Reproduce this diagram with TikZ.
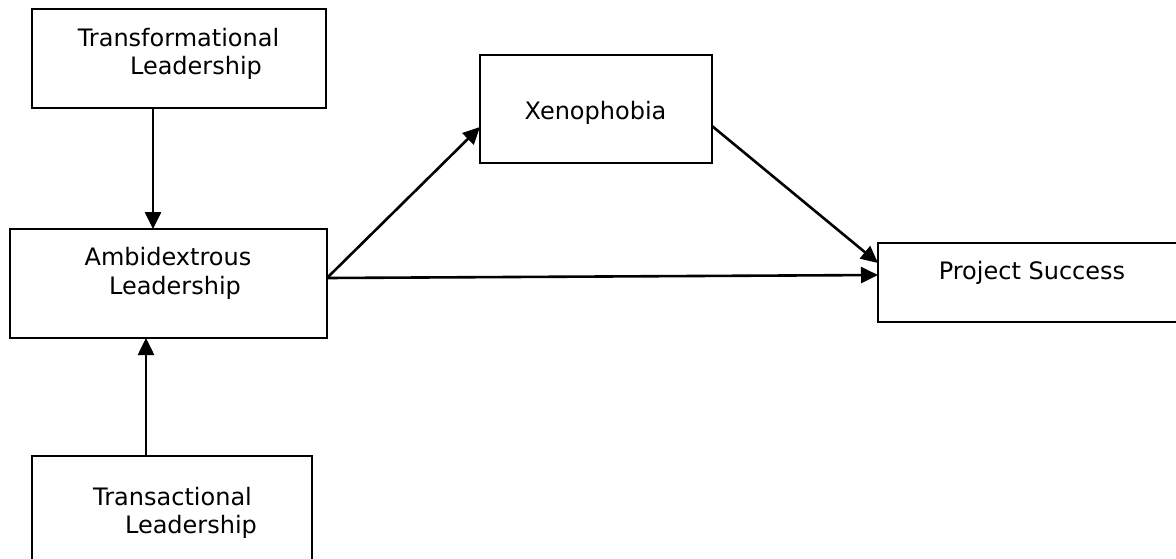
\documentclass[tikz,border=0pt]{standalone}
\usepackage{fontspec}
\setmainfont{DejaVu Sans}
\usetikzlibrary{arrows.meta}
\begin{document}
\begin{tikzpicture}[x=1pt,y=-1pt,
  box/.style={draw,line width=1.9pt,inner sep=0pt,outer sep=0pt,anchor=north west},
  lbl/.style={font=\fontsize{24}{29}\selectfont,inner sep=0pt,anchor=base},
  arr/.style={line width=2.6pt,-{Triangle[length=17pt,width=16pt]}}]
\useasboundingbox (0,0) rectangle (1176,558);
\clip (0,0) rectangle (1176,558);
% boxes
\node[box,minimum width=294pt,minimum height=99pt] (trf) at (32,9) {};
\node[box,minimum width=317pt,minimum height=109pt] (amb) at (10,229) {};
\node[box,minimum width=280pt,minimum height=150pt] (trs) at (32,456) {};
\node[box,minimum width=232pt,minimum height=108pt] (xen) at (480,55) {};
\node[box,minimum width=350pt,minimum height=79pt] (ps) at (878,243) {};
% labels
\node[lbl] (t1) at (178.5,46) {Transformational};
\node[lbl] (t2) at (196,74) {Leadership};
\node[lbl] (a1) at (168,265) {Ambidextrous};
\node[lbl] (a2) at (175,294) {Leadership};
\node[lbl] (s1) at (172.5,505) {Transactional};
\node[lbl] (s2) at (191,533) {Leadership};
\node[lbl] (x1) at (595.5,119) {Xenophobia};
\node[lbl] (p1) at (1032,279) {Project Success};
% helper coordinates
\coordinate (cx1) at (153,0);
\coordinate (cx2) at (146,0);
\coordinate (ya) at (0,278);
\coordinate (yx1) at (0,127);
\coordinate (yx2) at (0,126);
\coordinate (yp1) at (0,275);
\coordinate (yp2) at (0,263);
% connectors
\draw[arr] (trf.south -| cx1) -- (amb.north -| cx1);
\draw[arr] (trs.north -| cx2) -- (amb.south -| cx2);
\draw[arr] (amb.east |- ya) -- (xen.west |- yx1);
\draw[arr] (amb.east |- ya) -- (ps.west |- yp1);
\draw[arr] (xen.east |- yx2) -- (ps.west |- yp2);
\end{tikzpicture}
\end{document}
